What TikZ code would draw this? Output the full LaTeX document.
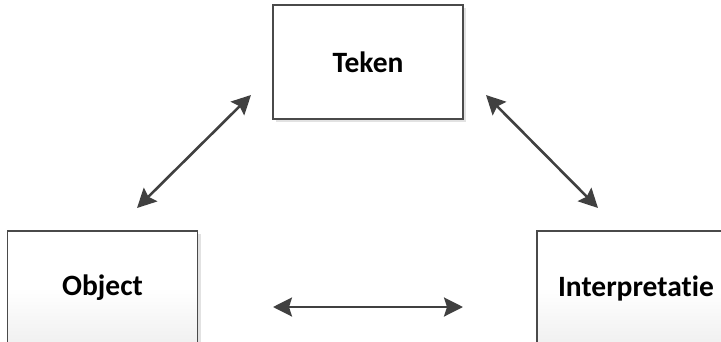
\documentclass[tikz,border=0pt]{standalone}
\usepackage{fontspec}
\setmainfont[Ligatures={NoCommon}]{Carlito}
\usetikzlibrary{arrows.meta,shadows}
\definecolor{linegray}{HTML}{404040}
\definecolor{shadowgray}{HTML}{E2E2E2}
\definecolor{boxedge}{HTML}{4A4A4A}
\tikzset{
  box/.style={draw=boxedge, line width=1.2pt, minimum width=190pt, minimum height=114pt,
    inner sep=0pt, font=\bfseries\fontsize{29.5}{31}\selectfont,
    top color=white, bottom color=black!6, middle color=white,
    drop shadow={shadow xshift=3pt, shadow yshift=-3pt, fill=shadowgray, opacity=1}},
  conn/.style={draw=linegray, line width=2.6pt,
    {Stealth[length=19pt,width=19pt,inset=3pt]}-{Stealth[length=19pt,width=19pt,inset=3pt]}}
}
\begin{document}
\begin{tikzpicture}[x=1pt,y=-1pt]
\useasboundingbox (0,0) rectangle (721,341);
\clip (0,0) rectangle (721,341);
\node[box, top color=white, bottom color=white] (teken) at (368,62) {Teken};
\node[box] (object) at (102.5,288) {Object};
\node[box, minimum width=198pt] (interp) at (636,288) {Interpretatie};
\coordinate (a1) at (137,208);
\coordinate (a2) at (251,95);
\coordinate (b1) at (486,95);
\coordinate (b2) at (598,208);
\coordinate (c1) at (273,307);
\coordinate (c2) at (463,307);
\draw[conn] (a1) -- (a2);
\draw[conn] (b1) -- (b2);
\draw[conn] (c1) -- (c2);
\end{tikzpicture}
\end{document}
